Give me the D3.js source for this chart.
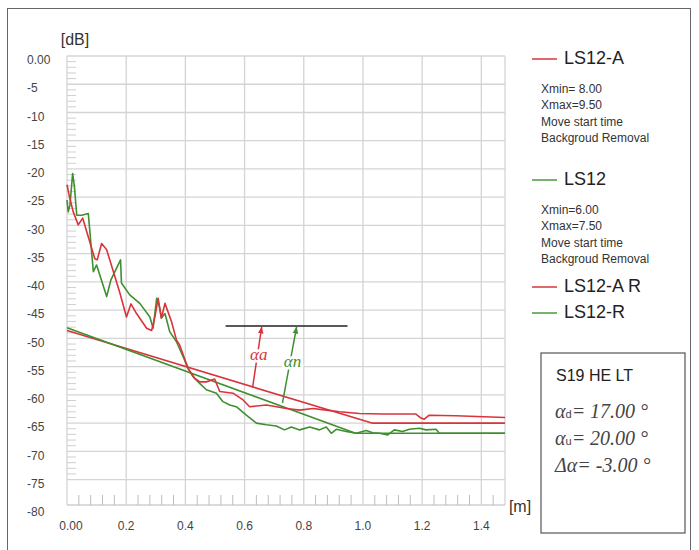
<!DOCTYPE html>
<html>
<head>
<meta charset="utf-8">
<script src="https://cdn.jsdelivr.net/npm/d3@7"></script>
<style>
  body { margin: 0; background: #fff; }
  svg { display: block; font-family: "Liberation Sans", Arial, sans-serif; }
</style>
</head>
<body>
<div id="chart"></div>
<script>
// ---- data (x in m, y in dB) ----
const xTicks = [0, 0.2, 0.4, 0.6, 0.8, 1.0, 1.2, 1.4];
const xTickLabels = ['0.00', '0.2', '0.4', '0.6', '0.8', '1.0', '1.2', '1.4'];
const yTicks = [0, -5, -10, -15, -20, -25, -30, -35, -40, -45, -50, -55, -60, -65, -70, -75, -80];
const yTickLabels = ['0.00', '-5', '-10', '-15', '-20', '-25', '-30', '-35', '-40', '-45', '-50', '-55', '-60', '-65', '-70', '-75', '-80'];

const ls12A = [
  [0.00, -22.8], [0.007, -24.6], [0.021, -27.6], [0.038, -29.9], [0.053, -28.7], [0.078, -33.1],
  [0.094, -35.9], [0.102, -36.1], [0.117, -33.2], [0.134, -34.3], [0.179, -42.0], [0.201, -46.2],
  [0.216, -43.9], [0.235, -45.6], [0.269, -48.2], [0.286, -48.6], [0.297, -46.2], [0.308, -42.9],
  [0.319, -46.4], [0.331, -43.8], [0.353, -47.0], [0.370, -50.3], [0.381, -51.2], [0.409, -55.3],
  [0.432, -57.1], [0.449, -57.7], [0.471, -57.7], [0.499, -57.2], [0.516, -59.4], [0.561, -59.7],
  [0.595, -60.9], [0.617, -62.1], [0.674, -61.8], [0.741, -62.4], [0.786, -62.7], [0.831, -62.4],
  [0.876, -62.7], [0.921, -63.0], [0.988, -63.3], [1.066, -63.4], [1.179, -63.4], [1.196, -64.1],
  [1.207, -64.3], [1.224, -63.6], [1.314, -63.7], [1.48, -64.0]
];
const ls12 = [
  [0.00, -25.5], [0.004, -27.6], [0.010, -26.4], [0.019, -20.8], [0.025, -23.1], [0.033, -28.2],
  [0.050, -28.2], [0.072, -27.9], [0.089, -38.2], [0.100, -37.0], [0.134, -42.6], [0.148, -39.7],
  [0.181, -36.1], [0.184, -40.2], [0.212, -42.3], [0.246, -43.8], [0.280, -46.2], [0.291, -48.2],
  [0.303, -42.9], [0.311, -44.1], [0.319, -46.4], [0.331, -45.6], [0.347, -48.8], [0.370, -50.6],
  [0.392, -53.2], [0.409, -55.3], [0.426, -56.8], [0.449, -58.0], [0.471, -59.1], [0.505, -59.7],
  [0.527, -61.2], [0.550, -61.8], [0.572, -62.1], [0.606, -63.6], [0.640, -65.0], [0.674, -65.3],
  [0.707, -65.5], [0.735, -66.2], [0.758, -65.7], [0.786, -66.2], [0.820, -65.7], [0.853, -66.2],
  [0.876, -65.7], [0.893, -66.8], [0.910, -66.1], [0.943, -66.5], [0.977, -66.8], [1.011, -66.3],
  [1.033, -66.7], [1.056, -66.8], [1.084, -67.1], [1.106, -66.2], [1.134, -66.5], [1.157, -66.1],
  [1.191, -65.9], [1.213, -66.2], [1.247, -66.1], [1.258, -66.8], [1.48, -66.8]
];
const ls12AR = [[0, -48.6], [1.03, -65.0], [1.48, -65.0]];
const ls12R = [[0, -48.1], [0.975, -66.8], [1.48, -66.8]];

const legendItems = [
  { name: 'LS12-A', color: '#d9343c', note: ['Xmin= 8.00', 'Xmax=9.50', 'Move start time', 'Backgroud Removal'] },
  { name: 'LS12', color: '#4a9a3a', note: ['Xmin=6.00', 'Xmax=7.50', 'Move start time', 'Backgroud Removal'] },
  { name: 'LS12-A R', color: '#d9343c', note: [] },
  { name: 'LS12-R', color: '#4a9a3a', note: [] }
];
const boxTitle = 'S19 HE LT';
const angleD = '17.00';
const angleU = '20.00';
const angleDelta = '-3.00';

const RED = '#d9343c', GREEN = '#3f8f2f';

// ---- svg ----
const W = 699, H = 550;
const svg = d3.select('#chart').append('svg').attr('width', W).attr('height', H);

svg.append('rect').attr('x', 7.5).attr('y', 8.5).attr('width', 683).attr('height', 560)
  .attr('fill', 'none').attr('stroke', '#666').attr('stroke-width', 1);

const x = d3.scaleLinear().domain([0, 1.48]).range([67, 505]);
const y = d3.scaleLinear().domain([-79.5, 0]).range([505, 56]);

const defs = svg.append('defs');
[['arrRed', RED], ['arrGreen', GREEN]].forEach(([id, c]) => {
  defs.append('marker')
    .attr('id', id).attr('viewBox', '0 -5 10 10')
    .attr('refX', 10).attr('refY', 0)
    .attr('orient', 'auto')
    .attr('markerWidth', 7).attr('markerHeight', 7)
    .attr('markerUnits', 'userSpaceOnUse')
    .append('path').attr('d', 'M0,-4 L10,0 L0,4 Z').attr('fill', c);
});

const g = svg.append('g');

// grid
g.selectAll('line.hg').data(yTicks.filter(v => v > -79)).join('line')
  .attr('x1', x(0)).attr('x2', x(1.48))
  .attr('y1', d => y(d)).attr('y2', d => y(d))
  .attr('stroke', '#d4d4d4').attr('stroke-width', 1.3);
g.selectAll('line.vg').data(xTicks.concat([1.48])).join('line')
  .attr('x1', d => x(d)).attr('x2', d => x(d))
  .attr('y1', y(0)).attr('y2', y(-79.5))
  .attr('stroke', '#d4d4d4').attr('stroke-width', 1.3);
g.append('line').attr('x1', x(0)).attr('x2', x(1.48)).attr('y1', y(-79.5)).attr('y2', y(-79.5))
  .attr('stroke', '#cfcfcf').attr('stroke-width', 1.3);

// minor ticks
const yMinor = d3.range(-1, -76, -1).filter(v => v % 5 !== 0);
g.selectAll('line.ym').data(yMinor).join('line')
  .attr('x1', x(0)).attr('x2', x(0) + 9)
  .attr('y1', d => y(d)).attr('y2', d => y(d))
  .attr('stroke', '#cfcfcf').attr('stroke-width', 1);
const xMinor = d3.range(0.04, 1.48, 0.04).filter(v => Math.abs(v / 0.2 - Math.round(v / 0.2)) > 0.01);
g.selectAll('line.xm').data(xMinor).join('line')
  .attr('x1', d => x(d)).attr('x2', d => x(d))
  .attr('y1', y(-79.5)).attr('y2', y(-79.5) - 10)
  .attr('stroke', '#bdbdbd').attr('stroke-width', 1);

// tick labels
g.selectAll('text.yl').data(yTicks).join('text')
  .attr('x', 27).attr('y', d => y(d) + 5)
  .attr('dominant-baseline', 'middle')
  .attr('font-size', 12).attr('fill', '#444')
  .text((d, i) => yTickLabels[i]);
g.selectAll('text.xl').data(xTicks).join('text')
  .attr('x', (d, i) => x(d) + (i === 0 ? 4 : 0)).attr('y', 527)
  .attr('text-anchor', 'middle').attr('dominant-baseline', 'middle')
  .attr('font-size', 12).attr('fill', '#444')
  .text((d, i) => xTickLabels[i]);

svg.append('text').attr('x', 75).attr('y', 41).attr('text-anchor', 'middle')
  .attr('dominant-baseline', 'middle').attr('font-size', 16).attr('fill', '#333').text('[dB]');
svg.append('text').attr('x', 520).attr('y', 508).attr('text-anchor', 'middle')
  .attr('dominant-baseline', 'middle').attr('font-size', 16).attr('fill', '#333').text('[m]');

// curves
const line = d3.line().x(d => x(d[0])).y(d => y(d[1]));
[[ls12AR, RED], [ls12R, GREEN], [ls12, GREEN], [ls12A, RED]].forEach(([data, c]) => {
  g.append('path').datum(data).attr('d', line)
    .attr('fill', 'none').attr('stroke', c).attr('stroke-width', 1.6)
    .attr('stroke-linejoin', 'round');
});

// angle annotation
g.append('line').attr('x1', x(0.536)).attr('x2', x(0.948)).attr('y1', y(-47.8)).attr('y2', y(-47.8))
  .attr('stroke', '#222').attr('stroke-width', 1.5);
const arrows = [
  { from: [0.627, -58.7], to: [0.658, -47.9], color: RED, label: 'αa', at: [0.648, -53.2], id: 'arrRed' },
  { from: [0.728, -61.4], to: [0.776, -47.9], color: GREEN, label: 'αn', at: [0.762, -54.4], id: 'arrGreen' }
];
arrows.forEach(a => {
  g.append('line')
    .attr('x1', x(a.from[0])).attr('y1', y(a.from[1]))
    .attr('x2', x(a.to[0])).attr('y2', y(a.to[1]))
    .attr('stroke', a.color).attr('stroke-width', 1.5)
    .attr('marker-end', `url(#${a.id})`);
  g.append('text').attr('x', x(a.at[0])).attr('y', y(a.at[1]))
    .attr('text-anchor', 'middle').attr('dominant-baseline', 'middle')
    .attr('font-family', '"Liberation Serif", "Times New Roman", serif')
    .attr('font-style', 'italic').attr('font-size', 17)
    .attr('fill', a.color)
    .attr('stroke', '#fff').attr('stroke-width', 5).attr('paint-order', 'stroke')
    .text(a.label);
});

// legend
const legendY = [59, 180, 287, 313];
const lg = svg.append('g');
legendItems.forEach((it, i) => {
  const ly = legendY[i];
  lg.append('line').attr('x1', 532).attr('x2', 557).attr('y1', ly).attr('y2', ly)
    .attr('stroke', it.color).attr('stroke-width', 1.5);
  lg.append('text').attr('x', 564).attr('y', ly).attr('dominant-baseline', 'middle')
    .attr('font-size', 18).attr('fill', '#222').text(it.name);
  it.note.forEach((t, j) => {
    lg.append('text').attr('x', 541).attr('y', ly + 31 + j * 16.3).attr('dominant-baseline', 'middle')
      .attr('font-size', 12).attr('fill', '#333').text(t);
  });
});

// result box
const bx = svg.append('g');
bx.append('rect').attr('x', 541).attr('y', 353).attr('width', 144).attr('height', 180)
  .attr('fill', '#fff').attr('stroke', '#555').attr('stroke-width', 1.2);
bx.append('text').attr('x', 556).attr('y', 377).attr('dominant-baseline', 'middle')
  .attr('font-size', 16).attr('fill', '#222').text(boxTitle);
const serif = '"Liberation Serif", "Times New Roman", serif';
const rows = [
  { y: 413, pre: 'α', sub: 'd', val: '= ' + angleD + ' °' },
  { y: 440, pre: 'α', sub: 'u', val: '= ' + angleU + ' °' },
  { y: 467, pre: 'Δα', sub: '', val: '= ' + angleDelta + ' °' }
];
rows.forEach(r => {
  const t = bx.append('text').attr('x', 555).attr('y', r.y).attr('dominant-baseline', 'middle')
    .attr('fill', '#444');
  t.append('tspan').attr('font-family', serif).attr('font-style', 'italic').attr('font-size', 20).text(r.pre);
  if (r.sub) t.append('tspan').attr('font-size', 11).attr('dy', 2).text(r.sub);
  t.append('tspan').attr('font-family', serif).attr('font-style', 'italic').attr('font-size', 20)
    .attr('dy', r.sub ? -2 : 0).text(r.val);
});
</script>
</body>
</html>
